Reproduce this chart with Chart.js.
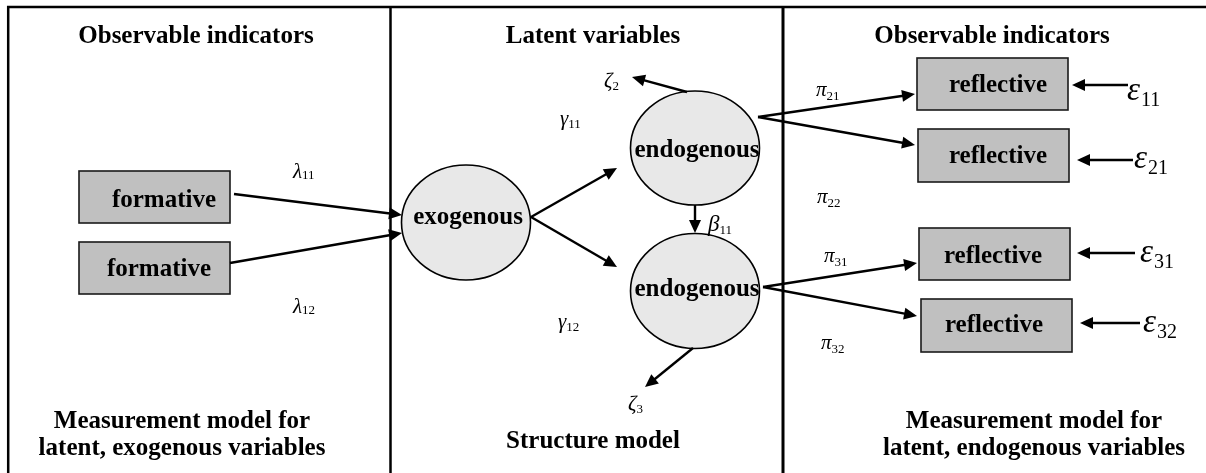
<!DOCTYPE html>
<html>
<head>
<meta charset="utf-8">
<script src="https://cdn.jsdelivr.net/npm/chart.js@4.4.1/dist/chart.umd.min.js"></script>
<style>
  html, body { margin: 0; padding: 0; background: #fff; }
  canvas { display: block; }
</style>
</head>
<body>
<canvas id="pathChart" width="1206" height="473"></canvas>
<script>
// Diagram space = 1206 x 473 units, y grows downward
const panelTitles = ['Observable indicators', 'Latent variables', 'Observable indicators'];
const panelTitleX = [196, 593, 992];
const panelFooters = [
    ['Measurement model for', 'latent, exogenous variables'],
    ['Structure model'],
    ['Measurement model for', 'latent, endogenous variables']
];
const panelFooterX = [182, 593, 1034];
const dividerX = [390.5, 783];

// Indicator boxes (manifest variables)
const boxLabels = ['formative', 'formative', 'reflective', 'reflective', 'reflective', 'reflective'];
const boxLeft   = [79, 79, 917, 918, 919, 921];
const boxRight  = [230, 230, 1068, 1069, 1070, 1072];
const boxTop    = [171, 242, 58, 129, 228, 299];
const boxBottom = [223, 294, 110, 182, 280, 352];
const boxTextX  = [164, 159, 998, 998, 993, 994];
const boxTextY  = [207, 276, 92, 163, 263, 332];

// Latent variables (ellipses)
const latentLabels = ['exogenous', 'endogenous', 'endogenous'];
const latentCx = [466, 695, 695];
const latentCy = [222.5, 148, 291];
const latentRx = [64.5, 64.5, 64.5];
const latentRy = [57.5, 57, 57.5];
const latentTextY = [224, 157, 296];

// Paths: start point -> arrow tip
const pathFromX = [234, 230, 531, 531, 695, 687, 693, 758, 758, 763, 763, 1128, 1133, 1135, 1140];
const pathFromY = [194, 263, 217, 217, 205, 92, 348, 117, 117, 287, 287, 85, 160, 253, 323];
const pathToX   = [402, 402, 617, 617, 695, 632, 645, 915, 915, 917, 917, 1072, 1077, 1077, 1080];
const pathToY   = [215, 233, 168, 267, 233, 77, 387, 94, 145, 263, 316, 85, 160, 253, 323];

// Coefficient labels
const coefSymbols = ['λ', 'λ', 'γ', 'γ', 'β', 'ζ', 'ζ', 'π', 'π', 'π', 'π'];
const coefSubs    = ['11', '12', '11', '12', '11', '2', '3', '21', '22', '31', '32'];
const coefX       = [293, 293, 560, 558, 708, 604, 628, 816, 817, 824, 821];
const coefY       = [178, 313, 125, 328, 231, 87, 410, 96, 203, 262, 349];

// Error terms of the reflective indicators
const errSubs = ['11', '21', '31', '32'];
const errX    = [1127, 1134, 1140, 1143];
const errY    = [100, 168, 262, 332];

const HEAD_LEN = 13;
const HEAD_HALF = 6;

// Shaft datasets (stop short of the tip so the head stays sharp)
const pathDatasets = pathFromX.map((fx, i) => {
    const dx = pathToX[i] - fx, dy = pathToY[i] - pathFromY[i];
    const len = Math.hypot(dx, dy);
    const cut = (HEAD_LEN - 3) / len;
    return {
        data: [
            { x: fx, y: pathFromY[i] },
            { x: pathToX[i] - dx * cut, y: pathToY[i] - dy * cut }
        ],
        showLine: true,
        borderColor: '#000',
        borderWidth: 2.4,
        pointRadius: 0,
        fill: false
    };
});

const boldFont = 'bold 25px "Liberation Serif", "Times New Roman", serif';

const diagramPlugin = {
    id: 'diagram',
    beforeDraw(chart) {
        const ctx = chart.ctx;
        ctx.save();
        ctx.fillStyle = '#fff';
        ctx.fillRect(0, 0, chart.width, chart.height);
        ctx.restore();
    },
    beforeDatasetsDraw(chart) {
        const ctx = chart.ctx;
        const sx = chart.scales.x, sy = chart.scales.y;
        const px = v => sx.getPixelForValue(v);
        const py = v => sy.getPixelForValue(v);
        ctx.save();

        // Frame: top line, left line, dividers
        ctx.strokeStyle = '#000';
        ctx.lineWidth = 2.5;
        ctx.beginPath();
        ctx.moveTo(px(7), py(7));
        ctx.lineTo(px(1206), py(7));
        ctx.moveTo(px(8.2), py(6));
        ctx.lineTo(px(8.2), py(473));
        ctx.stroke();
        dividerX.forEach((x, i) => {
            ctx.lineWidth = i === 0 ? 2.5 : 3;
            ctx.beginPath();
            ctx.moveTo(px(x), py(6));
            ctx.lineTo(px(x), py(473));
            ctx.stroke();
        });

        // Boxes
        ctx.lineWidth = 1.6;
        boxLabels.forEach((_, i) => {
            const x0 = px(boxLeft[i]), y0 = py(boxTop[i]);
            const w = px(boxRight[i]) - x0, h = py(boxBottom[i]) - y0;
            ctx.fillStyle = '#c0c0c0';
            ctx.fillRect(x0, y0, w, h);
            ctx.strokeStyle = '#1a1a1a';
            ctx.strokeRect(x0, y0, w, h);
        });

        // Ellipses
        ctx.lineWidth = 1.6;
        latentLabels.forEach((_, i) => {
            ctx.beginPath();
            ctx.ellipse(px(latentCx[i]), py(latentCy[i]),
                px(latentCx[i] + latentRx[i]) - px(latentCx[i]),
                py(latentCy[i] + latentRy[i]) - py(latentCy[i]), 0, 0, Math.PI * 2);
            ctx.fillStyle = '#e8e8e8';
            ctx.fill();
            ctx.strokeStyle = '#000';
            ctx.stroke();
        });
        ctx.restore();
    },
    afterDatasetsDraw(chart) {
        const ctx = chart.ctx;
        const sx = chart.scales.x, sy = chart.scales.y;
        const px = v => sx.getPixelForValue(v);
        const py = v => sy.getPixelForValue(v);
        ctx.save();

        // Arrow heads
        ctx.fillStyle = '#000';
        pathToX.forEach((tx, i) => {
            const x1 = px(tx), y1 = py(pathToY[i]);
            const x0 = px(pathFromX[i]), y0 = py(pathFromY[i]);
            const a = Math.atan2(y1 - y0, x1 - x0);
            ctx.beginPath();
            ctx.moveTo(x1, y1);
            ctx.lineTo(x1 - HEAD_LEN * Math.cos(a) + HEAD_HALF * Math.sin(a),
                       y1 - HEAD_LEN * Math.sin(a) - HEAD_HALF * Math.cos(a));
            ctx.lineTo(x1 - HEAD_LEN * Math.cos(a) - HEAD_HALF * Math.sin(a),
                       y1 - HEAD_LEN * Math.sin(a) + HEAD_HALF * Math.cos(a));
            ctx.closePath();
            ctx.fill();
        });

        // Titles and footers
        ctx.font = boldFont;
        ctx.textAlign = 'center';
        ctx.textBaseline = 'alphabetic';
        panelTitles.forEach((t, i) => ctx.fillText(t, px(panelTitleX[i]), py(43)));
        panelFooters.forEach((lines, i) => {
            if (lines.length === 1) {
                ctx.fillText(lines[0], px(panelFooterX[i]), py(448));
            } else {
                ctx.fillText(lines[0], px(panelFooterX[i]), py(428));
                ctx.fillText(lines[1], px(panelFooterX[i]), py(455));
            }
        });

        // Node labels
        boxLabels.forEach((t, i) => ctx.fillText(t, px(boxTextX[i]), py(boxTextY[i])));
        latentLabels.forEach((t, i) => ctx.fillText(t, px(latentCx[i] + 2), py(latentTextY[i])));

        // Coefficients
        ctx.textAlign = 'left';
        coefSymbols.forEach((s, i) => {
            const big = s === 'β' ? 23 : 21;
            ctx.font = `italic ${big}px "Liberation Serif", serif`;
            const x = px(coefX[i]), y = py(coefY[i]);
            ctx.fillText(s, x, y);
            const w = ctx.measureText(s).width;
            ctx.font = `13px "Liberation Serif", serif`;
            const drop = s === 'π' ? 4 : (s === 'λ' ? 1 : 3);
            ctx.fillText(coefSubs[i], x + w, y + drop);
        });

        // Error terms
        errSubs.forEach((sub, i) => {
            const x = px(errX[i]), y = py(errY[i]);
            ctx.font = 'italic 33px "Liberation Serif", serif';
            ctx.fillText('ε', x, y);
            const w = ctx.measureText('ε').width;
            ctx.font = '20px "Liberation Serif", serif';
            ctx.fillText(sub, x + w + 1, y + 6);
        });
        ctx.restore();
    }
};

new Chart(document.getElementById('pathChart'), {
    type: 'scatter',
    data: { datasets: pathDatasets },
    options: {
        responsive: false,
        animation: false,
        devicePixelRatio: 1,
        layout: { padding: 0 },
        plugins: { legend: { display: false }, tooltip: { enabled: false } },
        scales: {
            x: { type: 'linear', min: 0, max: 1206, display: false },
            y: { type: 'linear', min: 0, max: 473, reverse: true, display: false }
        }
    },
    plugins: [diagramPlugin]
});
</script>
</body>
</html>
